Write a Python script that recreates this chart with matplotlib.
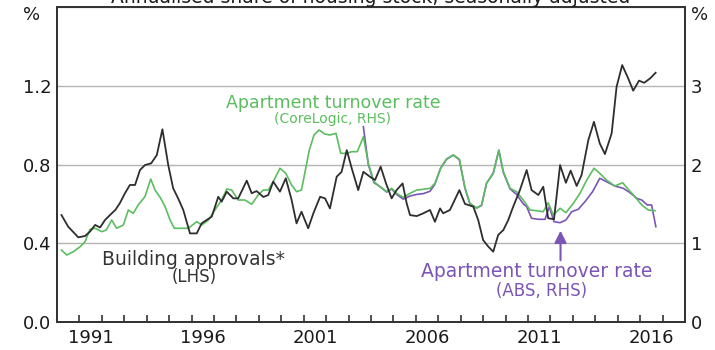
import matplotlib
matplotlib.use('Agg')
import matplotlib.pyplot as plt

plt.rcParams['font.family'] = ['DejaVu Sans']

# building approvals, % of housing stock (LHS)
approvals_dates = [1990.2, 1990.5, 1990.95, 1991.25, 1991.47, 1991.7, 1991.92, 1992.14, 1992.36, 1992.6,
                   1992.8, 1993.03, 1993.25, 1993.48, 1993.7, 1993.92, 1994.2, 1994.45, 1994.7, 1994.96,
                   1995.18, 1995.4, 1995.63, 1995.93, 1996.23, 1996.45, 1996.67, 1996.9, 1997.19, 1997.34,
                   1997.57, 1997.86, 1998.08, 1998.46, 1998.68, 1998.9, 1999.2, 1999.42, 1999.64, 1999.94,
                   2000.2, 2000.46, 2000.68, 2000.9, 2001.2, 2001.43, 2001.73, 2001.95, 2002.17, 2002.47,
                   2002.69, 2002.92, 2003.14, 2003.43, 2003.66, 2003.95, 2004.18, 2004.43, 2004.67, 2004.92,
                   2005.14, 2005.41, 2005.59, 2005.74, 2006.04, 2006.33, 2006.63, 2006.85, 2007.08, 2007.22,
                   2007.52, 2007.94, 2008.19, 2008.56, 2008.78, 2009.0, 2009.23, 2009.45, 2009.67, 2009.9,
                   2010.12, 2010.34, 2010.64, 2010.94, 2011.16, 2011.46, 2011.68, 2011.9, 2012.16, 2012.43,
                   2012.69, 2012.9, 2013.17, 2013.39, 2013.69, 2013.94, 2014.2, 2014.43, 2014.73, 2014.95,
                   2015.2, 2015.47, 2015.69, 2015.95, 2016.18, 2016.44, 2016.69]
approvals = [0.543, 0.484, 0.43, 0.437, 0.459, 0.493, 0.48, 0.518, 0.543, 0.569,
             0.603, 0.654, 0.696, 0.696, 0.772, 0.797, 0.806, 0.848, 0.979, 0.797,
             0.679, 0.628, 0.569, 0.45, 0.45, 0.501, 0.518, 0.535, 0.636, 0.611,
             0.662, 0.628, 0.628, 0.718, 0.654, 0.665, 0.635, 0.645, 0.713, 0.662,
             0.73, 0.62, 0.501, 0.56, 0.476, 0.552, 0.636, 0.628, 0.577, 0.738,
             0.763, 0.873, 0.781, 0.67, 0.763, 0.738, 0.721, 0.789, 0.704, 0.628,
             0.67, 0.704, 0.603, 0.543, 0.538, 0.552, 0.569, 0.509, 0.577, 0.552,
             0.569, 0.67, 0.6, 0.586, 0.518, 0.416, 0.383, 0.357, 0.442, 0.467,
             0.518, 0.586, 0.67, 0.772, 0.67, 0.645, 0.687, 0.527, 0.522, 0.797,
             0.707, 0.769, 0.691, 0.747, 0.924, 1.017, 0.907, 0.853, 0.958, 1.195,
             1.305, 1.237, 1.175, 1.226, 1.215, 1.237, 1.266]

# apartment turnover rate, CoreLogic (RHS)
corelogic_dates = [1990.2, 1990.43, 1990.73, 1991.03, 1991.25, 1991.47, 1991.7, 1992.0, 1992.2, 1992.44,
                   1992.66, 1992.96, 1993.18, 1993.4, 1993.62, 1993.92, 1994.18, 1994.37, 1994.6, 1994.82,
                   1995.04, 1995.23, 1995.56, 1995.85, 1996.23, 1996.45, 1996.75, 1997.04, 1997.34, 1997.57,
                   1997.79, 1998.08, 1998.38, 1998.68, 1998.97, 1999.2, 1999.42, 1999.64, 1999.94, 2000.2,
                   2000.46, 2000.68, 2000.9, 2001.25, 2001.46, 2001.68, 2001.95, 2002.17, 2002.44, 2002.65,
                   2002.92, 2003.14, 2003.39, 2003.66, 2003.88, 2004.13, 2004.4, 2004.7, 2004.92, 2005.14,
                   2005.44, 2005.74, 2006.04, 2006.33, 2006.63, 2006.85, 2007.1, 2007.37, 2007.67, 2007.94,
                   2008.19, 2008.41, 2008.71, 2008.93, 2009.15, 2009.45, 2009.7, 2009.9, 2010.2, 2010.49,
                   2010.79, 2011.09, 2011.39, 2011.68, 2011.9, 2012.13, 2012.43, 2012.69, 2013.02, 2013.32,
                   2013.62, 2013.94, 2014.2, 2014.5, 2014.87, 2015.22, 2015.47, 2015.77, 2016.07, 2016.36,
                   2016.66]
corelogic = [0.914, 0.851, 0.893, 0.956, 1.02, 1.177, 1.19, 1.147, 1.168, 1.295,
             1.19, 1.232, 1.422, 1.38, 1.486, 1.591, 1.816, 1.676, 1.583, 1.464,
             1.295, 1.19, 1.19, 1.19, 1.274, 1.232, 1.295, 1.422, 1.549, 1.689,
             1.676, 1.549, 1.549, 1.495, 1.613, 1.676, 1.676, 1.782, 1.952, 1.888,
             1.74, 1.655, 1.676, 2.184, 2.375, 2.438, 2.387, 2.375, 2.396, 2.142,
             2.142, 2.163, 2.163, 2.353, 2.015, 1.782, 1.718, 1.655, 1.697, 1.634,
             1.583, 1.634, 1.676, 1.685, 1.697, 1.761, 1.952, 2.066, 2.121, 2.066,
             1.7, 1.507, 1.444, 1.486, 1.761, 1.888, 2.184, 1.909, 1.697, 1.655,
             1.549, 1.422, 1.413, 1.401, 1.515, 1.359, 1.444, 1.388, 1.507, 1.634,
             1.803, 1.952, 1.888, 1.803, 1.727, 1.769, 1.685, 1.591, 1.486, 1.422,
             1.413]

# apartment turnover rate, ABS (RHS)
abs_dates = [2003.66, 2003.88, 2004.13, 2004.4, 2004.7, 2004.92, 2005.14, 2005.44, 2005.74, 2006.04,
             2006.33, 2006.63, 2006.85, 2007.1, 2007.37, 2007.67, 2007.94, 2008.19, 2008.41, 2008.71,
             2008.93, 2009.15, 2009.45, 2009.7, 2009.9, 2010.2, 2010.49, 2010.79, 2010.94, 2011.16,
             2011.46, 2011.76, 2011.95, 2012.16, 2012.43, 2012.69, 2012.95, 2013.24, 2013.54, 2013.88,
             2014.2, 2014.5, 2014.87, 2015.25, 2015.55, 2015.85, 2016.07, 2016.32, 2016.51, 2016.7]
abs_rate = [2.48, 2.0, 1.77, 1.72, 1.65, 1.69, 1.62, 1.56, 1.6, 1.62,
            1.63, 1.66, 1.75, 1.95, 2.07, 2.12, 2.06, 1.7, 1.5, 1.45,
            1.48, 1.76, 1.89, 2.18, 1.9, 1.69, 1.62, 1.5, 1.464, 1.317,
            1.304, 1.304, 1.464, 1.274, 1.261, 1.295, 1.401, 1.431, 1.528, 1.655,
            1.825, 1.782, 1.727, 1.697, 1.642, 1.571, 1.549, 1.486, 1.486, 1.21]

left_ticks = [0.0, 0.4, 0.8, 1.2]
left_labels = ['0.0', '0.4', '0.8', '1.2']
right_ticks = [0, 1, 2, 3]
year_labels = ['1991', '1996', '2001', '2006', '2011', '2016']

BLACK = '#2e2e2e'
GREEN = '#5cbd5f'
PURPLE = '#7b55b5'

fig = plt.figure(figsize=(7.15, 3.5), dpi=100)
ax = fig.add_axes([57 / 715, 28 / 350, 628 / 715, 315 / 350])
ax2 = ax.twinx()

ax.set_xlim(1990, 2018)
ax.set_ylim(0, 1.6)
ax2.set_ylim(0, 4)

for y in left_ticks[1:] + [1.6]:
    ax.axhline(y, color='#b4b4b4', lw=1.0, zorder=0)

ax2.plot(abs_dates, abs_rate, color=PURPLE, lw=1.2, zorder=2)
ax2.plot(corelogic_dates, corelogic, color=GREEN, lw=1.2, zorder=3)
ax2.plot(approvals_dates, [v * 2.5 for v in approvals], color=BLACK, lw=1.3, zorder=4)

# years: minor ticks at boundaries, labels mid-year
ax.set_xticks(range(1991, 2018), minor=True)
ax.set_xticks([int(y) + 0.5 for y in year_labels])
ax.set_xticklabels(year_labels)
ax.tick_params(axis='x', which='minor', direction='in', length=5, width=1.2, color='#333333')
ax.tick_params(axis='x', which='major', length=0, pad=5, labelsize=13, labelcolor='#1a1a1a')

ax.set_yticks(left_ticks)
ax.set_yticklabels(left_labels)
ax.tick_params(axis='y', length=0, pad=4, labelsize=13, labelcolor='#1a1a1a')
ax2.set_yticks(right_ticks)
ax2.tick_params(axis='y', length=0, pad=4, labelsize=13, labelcolor='#1a1a1a')

for a in (ax, ax2):
    for s in a.spines.values():
        s.set_color('#333333')
        s.set_linewidth(1.3)

fig.text(32 / 715, 1 - 15 / 350, '%', ha='center', va='center', fontsize=13, color='#1a1a1a')
fig.text(700 / 715, 1 - 15 / 350, '%', ha='center', va='center', fontsize=13, color='#1a1a1a')
# title sits mostly above the canvas, as in the source image
fig.text(371 / 715, 1 - 3 / 350, 'Annualised share of housing stock, seasonally adjusted',
         ha='center', va='baseline', fontsize=13.5, color='#1a1a1a')

# series labels
ax.text(2002.3, 1.11, 'Apartment turnover rate', ha='center', va='center', fontsize=12.5, color=GREEN)
ax.text(2002.3, 1.03, '(CoreLogic, RHS)', ha='center', va='center', fontsize=10, color=GREEN)
ax.text(1996.1, 0.315, 'Building approvals*', ha='center', va='center', fontsize=13.5, color='#333333')
ax.text(1996.1, 0.23, '(LHS)', ha='center', va='center', fontsize=12, color='#333333')
ax.text(2011.4, 0.255, 'Apartment turnover rate', ha='center', va='center', fontsize=13.5, color=PURPLE)
ax.text(2011.6, 0.16, '(ABS, RHS)', ha='center', va='center', fontsize=12, color=PURPLE)
ax.annotate('', xy=(2012.45, 0.478), xytext=(2012.45, 0.3),
            arrowprops=dict(arrowstyle='-|>', color=PURPLE, lw=1.5, mutation_scale=18))

fig.savefig('out.png', dpi=100)
